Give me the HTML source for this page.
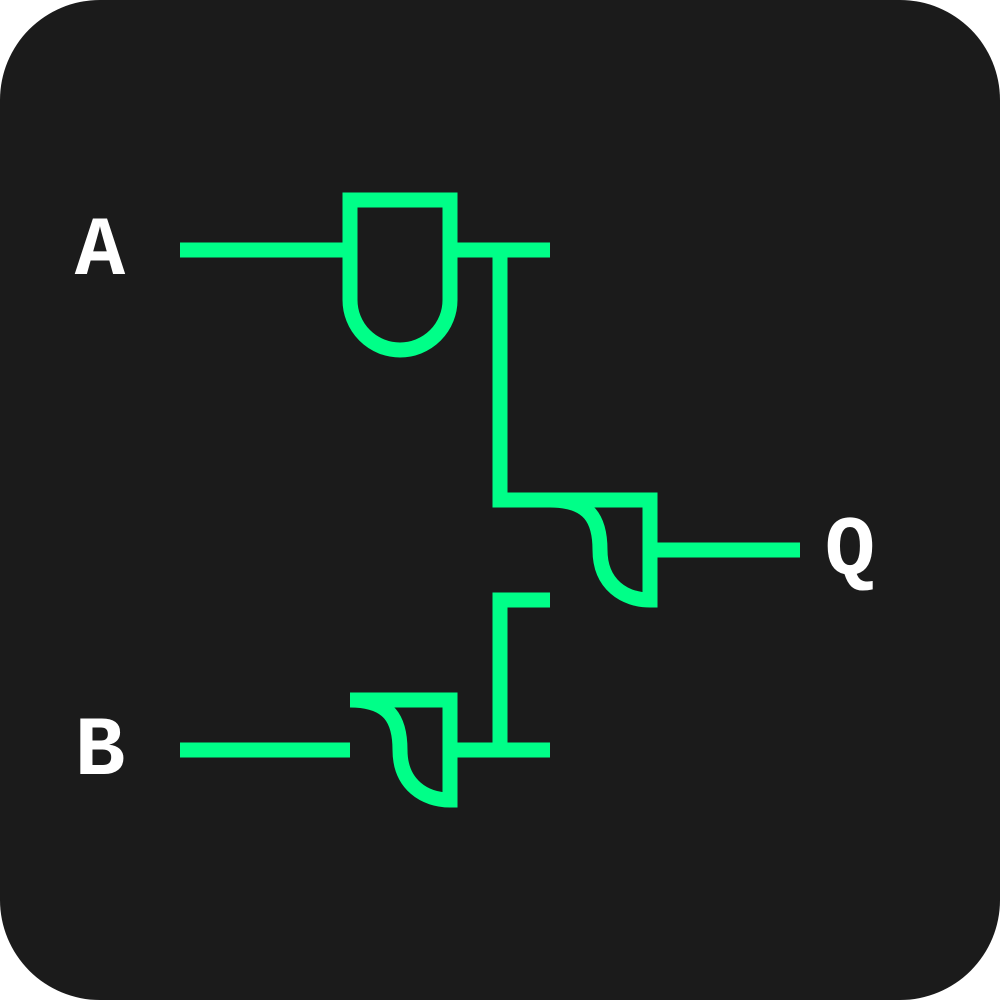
<!DOCTYPE html>
<html><head><meta charset="utf-8"><style>
html,body{margin:0;padding:0;background:#fff;}
svg{display:block;}
</style></head><body>
<svg width="1000" height="1000" viewBox="0 0 1000 1000">
<rect x="0" y="0" width="1000" height="1000" rx="100" fill="#1b1b1b"/>
<g fill="none" stroke="#00ff88" stroke-width="15" stroke-linecap="butt" stroke-linejoin="miter">
<path d="M180 250 H350"/>
<path d="M350 250 V200 H450 V300 A50 50 0 0 1 350 300 Z"/>
<path d="M450 250 H550"/>
<path d="M500 250 V500 H650 V600 C625 600 600 585 600 550 C600 520 590 500 550 500"/>
<path d="M650 550 H800"/>
<path d="M550 600 H500 V750"/>
<path d="M180 750 H350"/>
<path d="M350 700 H450 V800 C425 800 400 785 400 750 C400 720 390 700 350 700"/>
<path d="M450 750 H550"/>
</g>
<g style="font-family:'Courier New','Nimbus Mono PS','Nimbus Mono L',Courier,'Liberation Mono',monospace;font-weight:bold" font-size="84" fill="#ffffff" text-anchor="middle">
<text x="100" y="274">A</text>
<text x="100" y="774">B</text>
<text x="850" y="574">Q</text>
</g>
</svg>
</body></html>
